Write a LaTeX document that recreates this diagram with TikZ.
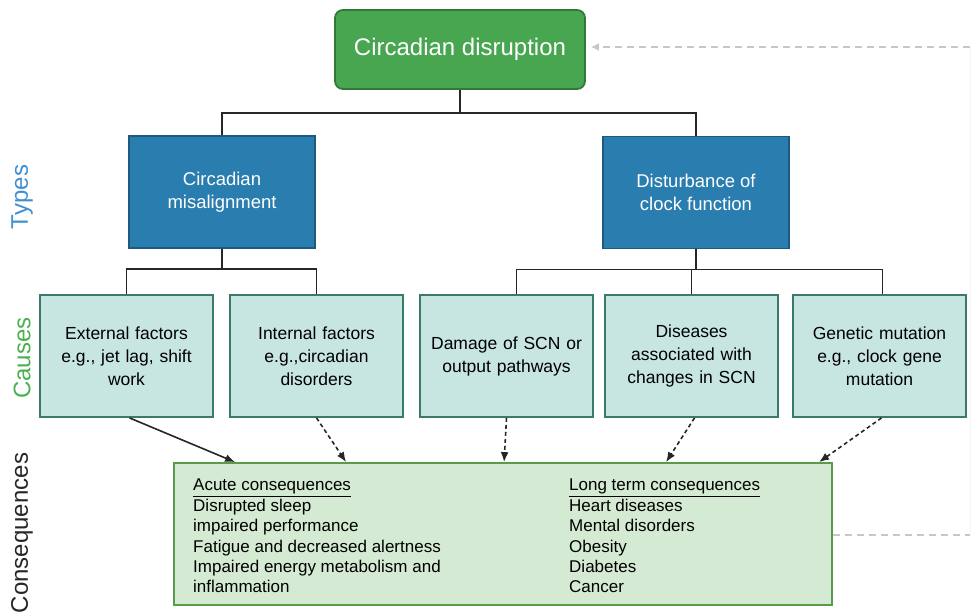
\documentclass[tikz,border=0pt]{standalone}
\usepackage{fontspec}
\setmainfont{Liberation Sans}
\usetikzlibrary{arrows.meta,calc}

\definecolor{topgreen}{HTML}{47A64F}
\definecolor{topgreenline}{HTML}{2F7A36}
\definecolor{typeblue}{HTML}{2A7DAF}
\definecolor{typeblueline}{HTML}{1D5A80}
\definecolor{causefill}{HTML}{C8E6E1}
\definecolor{causeline}{HTML}{3B7A6A}
\definecolor{consfill}{HTML}{D5EAD2}
\definecolor{consline}{HTML}{5B9A4A}
\definecolor{typeslabel}{HTML}{3F8FD2}
\definecolor{causeslabel}{HTML}{4CAF50}

\tikzset{
  topbox/.style={draw=topgreenline,fill=topgreen,line width=1.8pt,rounded corners=8pt,
    minimum width=250,minimum height=79,inner sep=0pt,text=white,
    font=\fontsize{24}{28}\selectfont},
  typebox/.style={draw=typeblueline,fill=typeblue,line width=1.8pt,
    minimum width=186,minimum height=112,inner sep=0pt,text=white,align=center,
    font=\fontsize{18.5}{23}\selectfont},
  causebox/.style={draw=causeline,fill=causefill,line width=1.8pt,
    minimum width=173,minimum height=122,inner sep=0pt,align=center,text width=166,
    font=\fontsize{17.5}{23}\selectfont},
  consbox/.style={draw=consline,fill=consfill,line width=1.8pt,
    minimum width=658,minimum height=142,inner sep=0pt},
  constext/.style={anchor=north west,inner sep=0pt,align=left,
    font=\fontsize{17}{20.4}\selectfont},
  sidelabel/.style={rotate=90,inner sep=0pt,font=\fontsize{24}{28}\selectfont},
  tree/.style={line width=1.7pt,black!85},
  causearrow/.style={line width=1.6pt,black!85,dash pattern=on 4pt off 3pt,
    -{Latex[length=10pt,width=8pt]}},
  fbline/.style={line width=1.5pt,black!22,dash pattern=on 7pt off 5pt}
}

\begin{document}
\begin{tikzpicture}[x=1pt,y=-1pt]
  \useasboundingbox (0,0) rectangle (974,614);

  \node[sidelabel,text=typeslabel] (typeslbl) at (22,197) {Types};
  \node[sidelabel,text=causeslabel] (causeslbl) at (22,358) {Causes};
  \node[sidelabel,text=black!85] (conslbl) at (22,533) {Consequences};

  \node[topbox] (disr) at (460,49.5) {Circadian disruption};

  \node[typebox] (misal) at (222,192) {Circadian\\misalignment};
  \node[typebox] (clockfn) at (696,192.5) {Disturbance of\\clock function};

  \node[causebox] (extf) at (126.5,356) {External factors\\e.g., jet lag, shift\\work};
  \node[causebox] (intf) at (316.5,356) {Internal factors\\e.g.,circadian\\disorders};
  \node[causebox] (scndmg) at (506.5,356) {Damage of SCN or\\output pathways};
  \node[causebox] (scndis) at (691.5,356) {Diseases\\associated with\\changes in SCN};
  \node[causebox] (genmut) at (879.5,356) {Genetic mutation\\e.g., clock gene\\mutation};

  \node[consbox] (conseq) at (503,534) {};
  \node[constext] (acute) at (193,479) {\underline{Acute consequences}\\Disrupted sleep\\impaired performance\\Fatigue and decreased alertness\\Impaired energy metabolism and\\inflammation};
  \node[constext] (longterm) at (569,479) {\underline{Long term consequences}\\Heart diseases\\Mental disorders\\Obesity\\Diabetes\\Cancer};

  \draw[tree] (disr.south) -- ++(0,23) -| (misal.north);
  \draw[tree] (disr.south) -- ++(0,23) -| (clockfn.north);
  \draw[tree] (misal.south) -- ++(0,20) -| (extf.north);
  \draw[tree] (misal.south) -- ++(0,20) -| (intf.north);
  \draw[tree] (clockfn.south) -- ++(0,20) -| ($(scndmg.north)+(10,0)$);
  \draw[tree] (clockfn.south) -- ++(0,20) -| (scndis.north);
  \draw[tree] (clockfn.south) -- ++(0,20) -| ($(genmut.north)+(3,0)$);

  \draw[line width=1.6pt,black!85,-{Latex[length=10pt,width=8pt]}] ($(extf.south)+(3,0)$) -- ($(conseq.north west)+(62,0)$);
  \draw[causearrow] (intf.south) -- ($(conseq.north west)+(173,0)$);
  \draw[causearrow] (scndmg.south) -- ($(conseq.north west)+(331,0)$);
  \draw[causearrow] ($(scndis.south)+(3,0)$) -- ($(conseq.north west)+(493,0)$);
  \draw[causearrow] ($(genmut.south)+(2,0)$) -- ($(conseq.north west)+(646,0)$);

  \coordinate (fbbot) at (970,535);
  \coordinate (fbtop) at (970,47);
  \draw[fbline] (conseq.east |- fbbot) -- (fbbot);
  \draw[line width=0.8pt,black!4] (fbbot) -- (fbtop);
  \draw[fbline,-{Latex[length=8pt,width=8pt]},shorten >=5pt] (fbtop) -- (fbtop -| disr.east);
\end{tikzpicture}
\end{document}
